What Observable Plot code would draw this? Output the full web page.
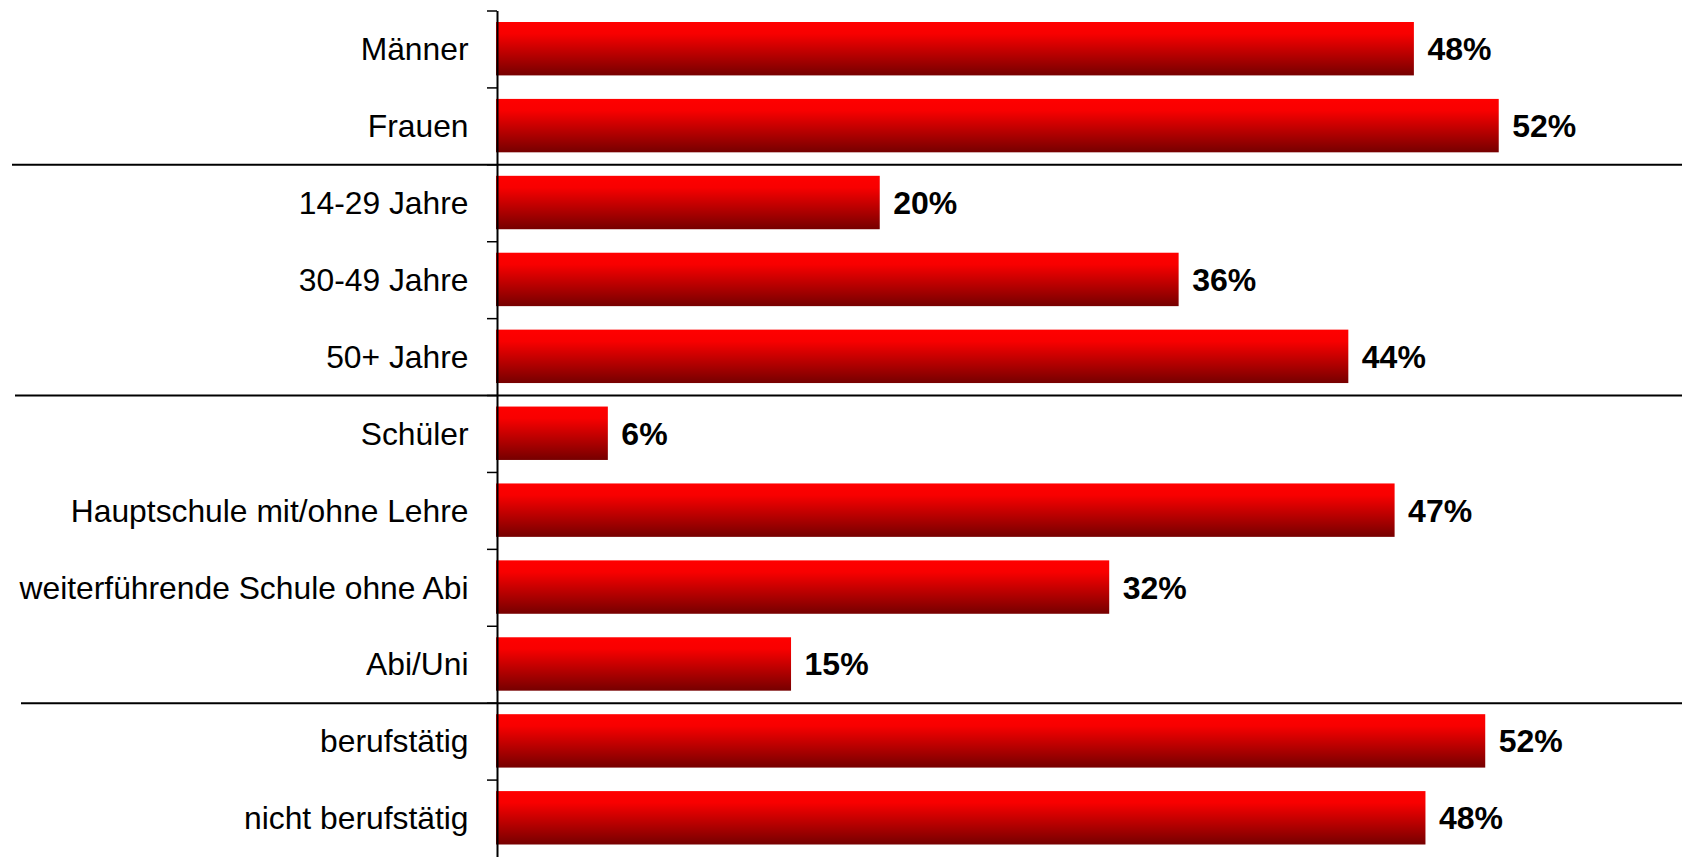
<!DOCTYPE html>
<html>
<head>
<meta charset="utf-8">
<script src="https://cdn.jsdelivr.net/npm/d3@7"></script>
<script src="https://cdn.jsdelivr.net/npm/@observablehq/plot@0.6"></script>
<style>
  html, body { margin: 0; padding: 0; background: #ffffff; }
  #chart svg { display: block; overflow: visible; }
</style>
</head>
<body>
<div id="chart"></div>
<script>
// Data
const categories = [
  "Männer", "Frauen",
  "14-29 Jahre", "30-49 Jahre", "50+ Jahre",
  "Schüler", "Hauptschule mit/ohne Lehre", "weiterführende Schule ohne Abi", "Abi/Uni",
  "berufstätig", "nicht berufstätig"
];
const values = [47.6, 52.0, 19.9, 35.4, 44.2, 5.8, 46.6, 31.8, 15.3, 51.3, 48.2];
const valueLabels = ["48%", "52%", "20%", "36%", "44%", "6%", "47%", "32%", "15%", "52%", "48%"];
// groups end after these categories (separator lines)
const groupEnds = ["Frauen", "50+ Jahre", "Abi/Uni"];

const data = categories.map((c, i) => ({ c, v: values[i], label: valueLabels[i] }));

const W = 1682, H = 857;
const plot = Plot.plot({
  width: W,
  height: H,
  marginLeft: 496,
  marginRight: 29,
  marginTop: 11,
  marginBottom: 0,
  x: { domain: [0, 60], axis: null },
  y: { domain: categories, padding: 0, round: false, axis: null },
  style: { fontFamily: "'Liberation Sans', Arial, sans-serif", background: "#ffffff", color: "#000" },
  marks: [
    Plot.barX(data, { y: "c", x: "v", fill: "url(#barGrad)", insetTop: 11, insetBottom: 12.5 }),
    Plot.text(data, {
      y: "c", x: "v", text: "label", dx: 13, textAnchor: "start",
      fontSize: 32, fontWeight: "bold", fill: "#000"
    }),
    Plot.axisY({ tickSize: 0, tickPadding: 28, fontSize: 31.8, fill: "#000", label: null }),
    Plot.ruleX([0], { stroke: "#000", strokeWidth: 2, dx: 1 })
  ]
});

const svg = d3.select(plot);
const defs = svg.insert("defs", ":first-child");
const g = defs.append("linearGradient")
  .attr("id", "barGrad").attr("x1", 0).attr("y1", 0).attr("x2", 0).attr("y2", 1);
g.append("stop").attr("offset", "0%").attr("stop-color", "#ff0000");
g.append("stop").attr("offset", "22%").attr("stop-color", "#f80000");
g.append("stop").attr("offset", "100%").attr("stop-color", "#760000");

// tick marks at band boundaries and group separators, positioned with Plot's y scale
const ys = plot.scale("y");
const xs = plot.scale("x");
const x0 = xs.apply(0) + 1;
const layer = svg.append("g");
categories.forEach(c => {
  const y = ys.apply(c);
  layer.append("line")
    .attr("x1", x0 - 10).attr("x2", x0).attr("y1", y).attr("y2", y)
    .attr("stroke", "#000").attr("stroke-width", 1.5);
});
const sepStart = [12, 15, 21];
groupEnds.forEach((c, i) => {
  const idx = categories.indexOf(c);
  const y = ys.apply(categories[idx + 1]);
  layer.append("line")
    .attr("x1", sepStart[i]).attr("x2", W).attr("y1", y).attr("y2", y)
    .attr("stroke", "#000").attr("stroke-width", 2);
});

document.getElementById("chart").appendChild(plot);
</script>
</body>
</html>
